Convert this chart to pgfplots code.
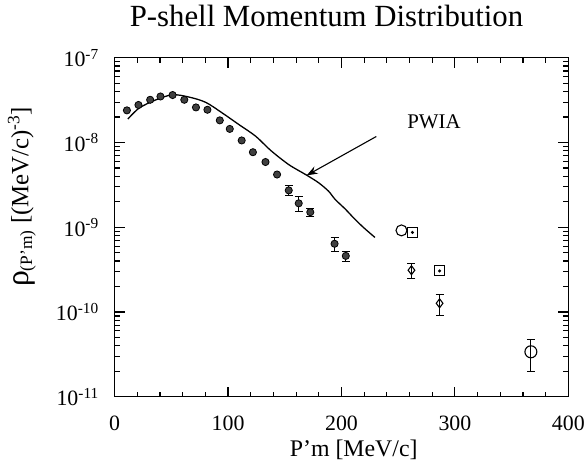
\documentclass[border=0pt]{standalone}
\usepackage{fontspec}
\setmainfont{Liberation Serif}
\usepackage{pgfplots}
\pgfplotsset{compat=1.18}
\usetikzlibrary{arrows.meta,calc}
\begin{document}
\begin{tikzpicture}
\path (0,0) rectangle (588bp,471bp);
\begin{axis}[
  name=ax,
  at={(115bp,73bp)}, anchor=south west,
  width=455bp, height=340bp, scale only axis,
  xmin=0, xmax=400, ymin=1e-11, ymax=1e-7, ymode=log,
  line width=1.3bp,
  xtick={0,100,200,300,400}, minor x tick num=4,
  xticklabels={0,100,200,300,400},
  ytick={1e-11,1e-10,1e-9,1e-8,1e-7},
  yticklabels={10\textsuperscript{-11},10\textsuperscript{-10},10\textsuperscript{-9},10\textsuperscript{-8},10\textsuperscript{-7}},
  tick pos=both, tick align=inside,
  major tick length=10bp, minor tick length=5bp,
  tick style={black, line width=1.2bp},
  tick label style={font=\fontsize{22}{26}\selectfont},
  xticklabel style={yshift=-15bp},
  yticklabel style={xshift=-12bp},
  title={P-shell Momentum Distribution},
  title style={at={(axis description cs:0.467,1)}, anchor=base, yshift=25bp, font=\fontsize{31}{36}\selectfont},
  xlabel={P'm [MeV/c]},
  xlabel style={at={(axis description cs:0.527,0)}, anchor=base, yshift=-60bp, font=\fontsize{24}{28}\selectfont},
  ylabel={{\fontsize{32}{34}\selectfont ρ}\textsubscript{(P'm)} [(MeV/c)\textsuperscript{-3}]},
  ylabel style={at={(axis description cs:-0.2044,0.59)}, anchor=center, font=\fontsize{25}{30}\selectfont},
]
% PWIA curve
\addplot[black, line width=1.3bp, smooth, tension=0.5] coordinates {
  (11.7,1.9e-8) (21.7,2.56e-8) (36.5,3.2e-8) (51.2,3.67e-8) (65.8,3.44e-8)
  (80.4,2.98e-8) (95,2.23e-8) (109.6,1.63e-8) (124.3,1.19e-8) (137.5,8.1e-9)
  (153.5,5.5e-9) (169,4.15e-9) (179.8,3.36e-9) (188.6,2.67e-9) (194.5,2.13e-9)
  (203.2,1.65e-9) (212,1.24e-9) (220,0.98e-9) (229.5,7.6e-10)
};
% filled data, no error bars
\addplot[only marks, mark=*, mark size=3.6bp, mark options={fill=black!75, draw=black, line width=0.8bp}] coordinates {
  (10.8,2.4e-8) (21,2.78e-8) (31.3,3.2e-8) (40.4,3.5e-8) (51.1,3.64e-8)
  (61.4,3.2e-8) (71.7,2.6e-8) (81.8,2.44e-8) (92.7,1.83e-8) (101.5,1.45e-8)
  (112,1.06e-8) (121.9,7.7e-9) (133,5.9e-9) (143.2,4.2e-9)
};
% filled data with error bars
\addplot[only marks, mark=*, mark size=3.6bp, mark options={fill=black!75, draw=black, line width=0.8bp},
  error bars/.cd, y dir=both, y explicit,
  error mark options={rotate=90, black, mark size=4bp, line width=1bp},
  error bar style={black, line width=1bp}] coordinates {
  (153.5,2.73e-9) +- (0,0.35e-9)
  (162.3,1.92e-9) +- (0,0.37e-9)
  (172.5,1.51e-9) +- (0,0.15e-9)
  (193.9,6.4e-10) +- (0,1.2e-10)
  (203.8,4.6e-10) +- (0,0.65e-10)
};
% open circles
\addplot[only marks, mark=o, mark size=5.5bp, mark options={black, line width=1.1bp}] coordinates {
  (252.9,9.2e-10)
};
\addplot[only marks, mark=o, mark size=6bp, mark options={black, line width=1.1bp},
  error bars/.cd, y dir=both, y explicit,
  error mark options={rotate=90, black, mark size=4bp, line width=1bp},
  error bar style={black, line width=1bp}] coordinates {
  (367,3.4e-11) +- (0,1.4e-11)
};
% squares with dot
\addplot[only marks, mark=square, mark size=5bp, mark options={black, line width=1.1bp}] coordinates {
  (262.6,8.7e-10) (286.5,3.06e-10)
};
\addplot[only marks, mark=*, mark size=0.8bp, mark options={black}] coordinates {
  (262.6,8.7e-10) (286.5,3.06e-10)
};
% diamonds
\addplot[only marks, mark=diamond, mark size=4.5bp, mark options={black, line width=1.1bp},
  error bars/.cd, y dir=both, y explicit,
  error mark options={rotate=90, black, mark size=4bp, line width=1bp},
  error bar style={black, line width=1bp}] coordinates {
  (261.7,3.12e-10) +- (0,0.66e-10)
  (286.5,1.27e-10) +- (0,0.35e-10)
};
% annotation
\draw[line width=1.1bp, -{Stealth[length=11bp,width=8bp]}] (axis cs:230.7,1.18e-8) -- (axis cs:169.3,4.1e-9);
\node[font=\fontsize{21}{25}\selectfont] at (axis cs:281.6,1.77e-8) {PWIA};
\end{axis}
% frame tick marks (same places as the axis ticks)
\begin{scope}[line width=1.2bp, black]
\foreach \i in {0,...,4} {
  \draw ($(ax.south west)!\i/4!(ax.south east)$) -- ++(0,10bp);
  \draw ($(ax.north west)!\i/4!(ax.north east)$) -- ++(0,-10bp);
  \draw ($(ax.south west)!\i/4!(ax.north west)$) -- ++(10bp,0);
  \draw ($(ax.south east)!\i/4!(ax.north east)$) -- ++(-10bp,0);
}
\foreach \i in {1,...,19} {
  \draw ($(ax.south west)!\i/20!(ax.south east)$) -- ++(0,5bp);
  \draw ($(ax.north west)!\i/20!(ax.north east)$) -- ++(0,-5bp);
}
\foreach \d in {0,...,3} {
  \foreach \m in {2,...,9} {
    \pgfmathsetmacro\f{(\d+ln(\m)/ln(10))/4}
    \draw ($(ax.south west)!\f!(ax.north west)$) -- ++(5bp,0);
    \draw ($(ax.south east)!\f!(ax.north east)$) -- ++(-5bp,0);
  }
}
\end{scope}
\end{tikzpicture}
\end{document}
